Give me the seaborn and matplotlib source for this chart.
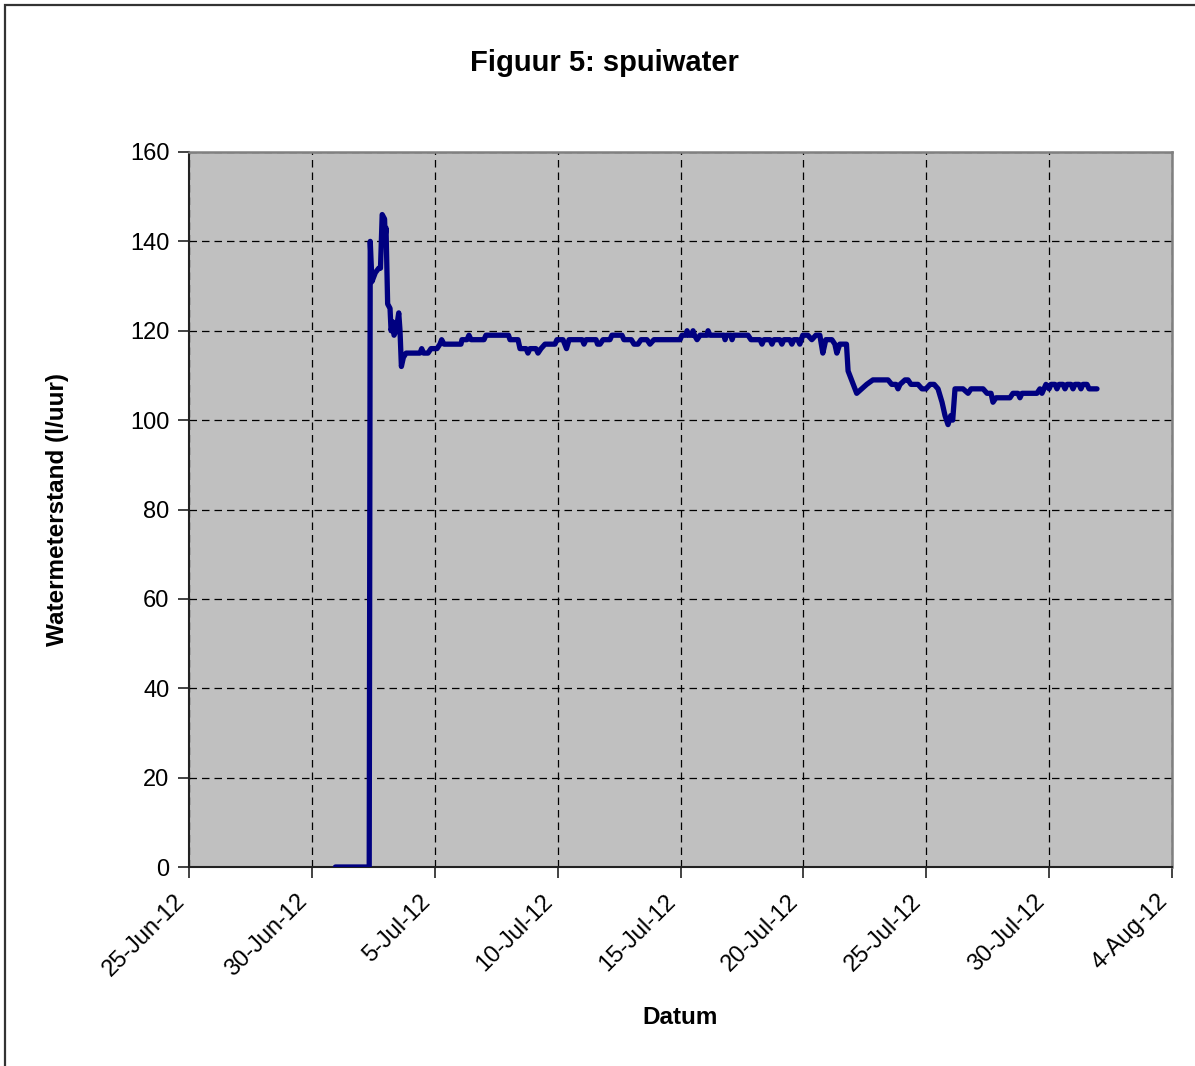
import matplotlib
matplotlib.use("Agg")
import matplotlib.pyplot as plt
from matplotlib.patches import Rectangle
import seaborn as sns
import pandas as pd

# ---- data ----
times = [
    "2012-06-30 23:00", "2012-07-02 08:00", "2012-07-02 09:00", "2012-07-02 10:40",
    "2012-07-02 14:00", "2012-07-02 17:20", "2012-07-02 19:00", "2012-07-02 20:40",
    "2012-07-02 23:00", "2012-07-02 23:30", "2012-07-03 00:25", "2012-07-03 02:00",
    "2012-07-03 04:20", "2012-07-03 05:20", "2012-07-03 07:00", "2012-07-03 08:15",
    "2012-07-03 10:15", "2012-07-03 12:50", "2012-07-03 14:05", "2012-07-03 15:25",
    "2012-07-03 17:20", "2012-07-03 20:00", "2012-07-04 09:35", "2012-07-04 11:15",
    "2012-07-04 13:00", "2012-07-04 17:25", "2012-07-04 20:20", "2012-07-05 02:10",
    "2012-07-05 05:05", "2012-07-05 06:45", "2012-07-05 09:00", "2012-07-06 01:35",
    "2012-07-06 02:35", "2012-07-06 07:30", "2012-07-06 09:25", "2012-07-06 11:25",
    "2012-07-07 00:05", "2012-07-07 02:00", "2012-07-08 00:00", "2012-07-08 01:30",
    "2012-07-08 09:20", "2012-07-08 11:15", "2012-07-08 17:10", "2012-07-08 19:00",
    "2012-07-08 21:00", "2012-07-09 02:50", "2012-07-09 04:50", "2012-07-09 07:45",
    "2012-07-09 11:40", "2012-07-09 21:25", "2012-07-09 23:20", "2012-07-10 05:15",
    "2012-07-10 08:40", "2012-07-10 11:10", "2012-07-11 00:00", "2012-07-11 01:45",
    "2012-07-11 03:40", "2012-07-11 13:30", "2012-07-11 15:00", "2012-07-11 17:25",
    "2012-07-11 20:20", "2012-07-12 03:05", "2012-07-12 05:00", "2012-07-12 14:50",
    "2012-07-12 16:45", "2012-07-13 00:00", "2012-07-13 02:35", "2012-07-13 06:30",
    "2012-07-13 09:25", "2012-07-13 15:15", "2012-07-13 18:10", "2012-07-13 22:05",
    "2012-07-14 23:30", "2012-07-15 01:30", "2012-07-15 05:25", "2012-07-15 06:25",
    "2012-07-15 07:50", "2012-07-15 11:15", "2012-07-15 12:15", "2012-07-15 13:40",
    "2012-07-15 16:10", "2012-07-15 19:05", "2012-07-16 01:55", "2012-07-16 02:55",
    "2012-07-16 04:50", "2012-07-16 18:30", "2012-07-16 19:30", "2012-07-16 20:55",
    "2012-07-17 01:20", "2012-07-17 02:20", "2012-07-17 03:45", "2012-07-17 17:55",
    "2012-07-17 20:50", "2012-07-18 05:40", "2012-07-18 07:35", "2012-07-18 09:30",
    "2012-07-18 15:25", "2012-07-18 17:20", "2012-07-18 19:15", "2012-07-19 01:05",
    "2012-07-19 03:00", "2012-07-19 05:00", "2012-07-19 10:50", "2012-07-19 12:45",
    "2012-07-19 14:40", "2012-07-19 18:35", "2012-07-19 20:30", "2012-07-19 23:25",
    "2012-07-20 04:20", "2012-07-20 08:15", "2012-07-20 12:10", "2012-07-20 16:05",
    "2012-07-20 19:00", "2012-07-20 21:55", "2012-07-21 03:50", "2012-07-21 06:45",
    "2012-07-21 08:40", "2012-07-21 11:35", "2012-07-21 18:05", "2012-07-21 19:40",
    "2012-07-21 23:00", "2012-07-22 04:05", "2012-07-22 08:55", "2012-07-22 13:50",
    "2012-07-22 19:55", "2012-07-23 10:40", "2012-07-23 14:15", "2012-07-23 18:30",
    "2012-07-23 20:25", "2012-07-23 22:25", "2012-07-24 03:15", "2012-07-24 06:10",
    "2012-07-24 09:05", "2012-07-24 15:55", "2012-07-24 19:50", "2012-07-24 23:45",
    "2012-07-25 03:45", "2012-07-25 07:40", "2012-07-25 11:30", "2012-07-25 15:25",
    "2012-07-25 18:20", "2012-07-25 21:15", "2012-07-25 23:55", "2012-07-26 01:50",
    "2012-07-26 04:05", "2012-07-26 11:55", "2012-07-26 16:50", "2012-07-26 19:45",
    "2012-07-27 07:30", "2012-07-27 11:20", "2012-07-27 15:15", "2012-07-27 17:10",
    "2012-07-27 20:05", "2012-07-28 09:45", "2012-07-28 12:40", "2012-07-28 17:35",
    "2012-07-28 19:30", "2012-07-28 21:30", "2012-07-29 12:05", "2012-07-29 15:00",
    "2012-07-29 17:00", "2012-07-29 20:55", "2012-07-30 00:00", "2012-07-30 01:50",
    "2012-07-30 05:45", "2012-07-30 07:40", "2012-07-30 09:40", "2012-07-30 13:35",
    "2012-07-30 15:30", "2012-07-30 17:30", "2012-07-30 21:25", "2012-07-30 23:20",
    "2012-07-31 01:15", "2012-07-31 05:10", "2012-07-31 07:05", "2012-07-31 09:00",
    "2012-07-31 13:00", "2012-07-31 15:00", "2012-07-31 22:45",
]
values = [
    0, 0, 140, 131,
    133, 134, 134, 146,
    145, 141, 143, 126,
    125, 120, 122, 119,
    120, 124, 120, 112,
    114, 115, 115, 116,
    115, 115, 116, 116,
    117, 118, 117, 117,
    118, 118, 119, 118,
    118, 119, 119, 118,
    118, 116, 116, 115,
    116, 116, 115, 116,
    117, 117, 118, 118,
    116, 118, 118, 117,
    118, 118, 117, 117,
    118, 118, 119, 119,
    118, 118, 117, 117,
    118, 118, 117, 118,
    118, 119, 119, 120,
    119, 119, 120, 119,
    118, 119, 119, 120,
    119, 119, 118, 119,
    119, 118, 119, 119,
    118, 118, 117, 118,
    118, 117, 118, 118,
    117, 118, 118, 117,
    118, 118, 117, 119,
    119, 118, 119, 119,
    115, 118, 118, 117,
    115, 117, 117, 111,
    109, 106, 107, 108,
    109, 109, 108, 108,
    107, 108, 109, 109,
    108, 108, 107, 107,
    108, 108, 107, 104,
    101, 99, 101, 100,
    107, 107, 106, 107,
    107, 106, 106, 104,
    105, 105, 106, 106,
    105, 106, 106, 107,
    106, 108, 107, 108,
    108, 107, 108, 108,
    107, 108, 108, 107,
    108, 108, 107, 108,
    108, 107, 107,
]
tick_dates = ["2012-06-25", "2012-06-30", "2012-07-05", "2012-07-10", "2012-07-15",
              "2012-07-20", "2012-07-25", "2012-07-30", "2012-08-04"]
tick_labels = ["25-Jun-12", "30-Jun-12", "5-Jul-12", "10-Jul-12", "15-Jul-12",
               "20-Jul-12", "25-Jul-12", "30-Jul-12", "4-Aug-12"]
y_ticks = [0, 20, 40, 60, 80, 100, 120, 140, 160]

title = "Figuur 5: spuiwater"
xlabel = "Datum"
ylabel = "Watermeterstand (l/uur)"

# ---- styling ----
sns.set_style("ticks")
plt.rcParams["font.family"] = ["Liberation Sans", "DejaVu Sans"]
plt.rcParams["text.color"] = "black"
plt.rcParams["axes.labelcolor"] = "black"

df = pd.DataFrame({"tijd": pd.to_datetime(times), "waarde": values})

fig = plt.figure(figsize=(11.95, 10.66), dpi=100)
ax = fig.add_axes([189 / 1195, 1 - 867 / 1066, (1172 - 189) / 1195, (867 - 152) / 1066])
ax.set_facecolor("#C0C0C0")

sns.lineplot(data=df, x="tijd", y="waarde", ax=ax, color="#000080", linewidth=3.8,
             estimator=None, sort=False, zorder=5)

ax.set_xlim(pd.Timestamp(tick_dates[0]), pd.Timestamp(tick_dates[-1]))
ax.set_ylim(0, 160)
ax.set_yticks(y_ticks)
ax.set_yticklabels([str(v) for v in y_ticks])
ax.set_xticks([pd.Timestamp(d) for d in tick_dates])
ax.set_xticklabels(tick_labels, rotation=45, ha="right", va="bottom", rotation_mode="anchor")

ax.grid(True, color="black", linestyle=(0, (6, 4)), linewidth=0.9)
ax.set_axisbelow(True)

for s in ["left", "bottom"]:
    ax.spines[s].set_color("#222222")
    ax.spines[s].set_linewidth(1.5)
for s in ["top", "right"]:
    ax.spines[s].set_color("#808080")
    ax.spines[s].set_linewidth(1.8)

ax.tick_params(axis="both", direction="out", length=8, width=1.2, color="#222222",
               labelsize=17, labelcolor="black")
ax.tick_params(axis="x", pad=20)
ax.tick_params(axis="y", pad=6)

ax.set_xlabel("")
ax.set_ylabel("")
fig.text(604 / 1195, 1 - 63 / 1066, title, ha="center", va="center",
         fontsize=21, fontweight="bold", color="black")
fig.text(680 / 1195, 1 - 1017 / 1066, xlabel, ha="center", va="center",
         fontsize=17.5, fontweight="bold", color="black")
fig.text(58 / 1195, 1 - 509 / 1066, ylabel, ha="center", va="center",
         fontsize=17.5, fontweight="bold", rotation=90, color="black")

# outer chart border
fig.patches.append(Rectangle((5 / 1195, -0.05), 1.2, 1.05 - 5 / 1066,
                             transform=fig.transFigure, fill=False,
                             edgecolor="#333333", linewidth=1.6))

fig.savefig("out.png", dpi=100, facecolor="white")
